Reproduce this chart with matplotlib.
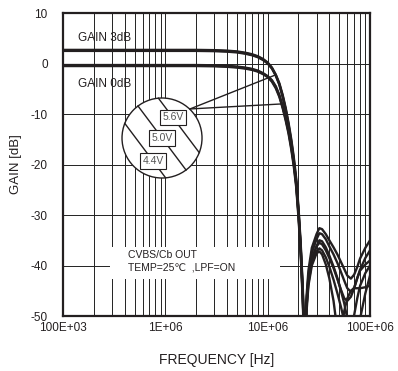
import numpy as np
import matplotlib
matplotlib.use("Agg")
import matplotlib.pyplot as plt
from matplotlib.patches import Ellipse, Rectangle

plt.rcParams['font.family'] = ['Liberation Sans', 'DejaVu Sans']

# --- datos ---
freq_mhz = [0.1, 1, 2, 3, 4, 5, 6, 7, 8, 9, 10, 11, 12, 13, 14, 15, 16, 17, 18, 19,
            20, 21, 22, 23, 24, 25, 27, 30, 32, 34, 37, 40, 44, 48, 52, 56, 60, 65,
            70, 75, 80, 90, 100]

gain3_56v = [2.7, 2.7, 2.7, 2.65, 2.55, 2.4, 2.15, 1.85, 1.45, 0.9, 0.2, -0.8, -2.2, -3.9,
             -6.2, -8.8, -11.8, -15.0, -18.6, -22.8, -28.5, -35.5, -44, -56, -46,
             -41, -36.5, -33.8, -32.6, -32.8, -33.8, -35.0, -36.4, -37.8, -39.3, -40.7,
             -42.0, -42.6, -41.8, -40.3, -38.6, -36.5, -35.0]
gain3_50v = [2.6, 2.6, 2.6, 2.55, 2.45, 2.3, 2.05, 1.75, 1.35, 0.8, 0.1, -0.9, -2.3, -4.1,
             -6.4, -9.1, -12.1, -15.4, -19.0, -23.3, -29, -36, -45, -57, -47,
             -42, -37.5, -34.8, -33.6, -33.8, -34.8, -36.2, -37.8, -39.5, -41.3, -43.0,
             -44.5, -45.2, -44.4, -42.5, -40.8, -38.5, -37.0]
gain3_44v = [2.5, 2.5, 2.5, 2.45, 2.35, 2.2, 1.95, 1.65, 1.25, 0.7, 0.0, -1.0, -2.4, -4.2,
             -6.6, -9.3, -12.4, -15.7, -19.4, -23.8, -29.5, -36.5, -46, -58, -48,
             -43, -39, -36.2, -35.0, -35.2, -36.4, -38.0, -40.2, -42.5, -45.0, -47.5,
             -50.5, -51.5, -49.8, -46.5, -44.0, -41.5, -40.0]
gain0_56v = [-0.3, -0.3, -0.3, -0.35, -0.45, -0.6, -0.8, -1.05, -1.4, -1.9, -2.5, -3.3, -4.5,
             -6.2, -8.4, -10.8, -13.3, -16.3, -19.6, -23.5, -29.5, -36.5, -45, -57, -47,
             -42.5, -38.5, -36.2, -35.5, -35.8, -37.0, -38.5, -40.5, -42.7, -44.8, -46.5,
             -47.0, -46.2, -44.5, -42.5, -41.0, -39.8, -39.0]
gain0_50v = [-0.4, -0.4, -0.4, -0.45, -0.55, -0.7, -0.9, -1.15, -1.5, -2.0, -2.6, -3.4, -4.7,
             -6.4, -8.6, -11.0, -13.6, -16.6, -20.0, -24.0, -30, -37, -46, -58, -48,
             -43.5, -39.5, -37.2, -36.6, -37.0, -38.4, -40.2, -42.8, -45.5, -48.2, -51.0,
             -53.5, -55.5, -57, -55, -50.5, -45.5, -42.0]
gain0_44v = [-0.5, -0.5, -0.5, -0.55, -0.65, -0.8, -1.0, -1.25, -1.6, -2.1, -2.7, -3.6, -4.9,
             -6.6, -8.8, -11.3, -13.9, -17.0, -20.4, -24.5, -30.5, -37.5, -47, -59, -49,
             -44, -40, -37.6, -37.2, -37.8, -39.8, -42.5, -47.0, -53.0, -53.5, -49.0,
             -46.5, -45.0, -44.5, -44.5, -44.5, -44.3, -44.0]

curvas = [gain3_56v, gain3_50v, gain3_44v, gain0_56v, gain0_50v, gain0_44v]

xticks_hz = [1e5, 1e6, 1e7, 1e8]
xtick_labels = ["100E+03", "1E+06", "10E+06", "100E+06"]
yticks_db = [10, 0, -10, -20, -30, -40, -50]
etiquetas_v = ["5.6V", "5.0V", "4.4V"]

# --- figura ---
fig = plt.figure(figsize=(3.98, 3.71), dpi=100)
ax = fig.add_axes([0.1583, 0.1482, 0.7714, 0.8167])

f_hz = np.array(freq_mhz) * 1e6
for g in curvas:
    ax.plot(f_hz, g, color='#231f20', lw=1.7, zorder=5, solid_joinstyle='round')

ax.set_xscale('log')
ax.set_xlim(1e5, 1e8)
ax.set_ylim(-50, 10)

# cuadrícula: todas las décadas menores en x, cada 10 dB en y
ax.set_xticks(xticks_hz)
ax.set_xticklabels(xtick_labels)
ax.set_yticks(yticks_db)
ax.set_yticklabels([str(v) for v in yticks_db])
ax.xaxis.set_minor_locator(matplotlib.ticker.LogLocator(base=10, subs=np.arange(2, 10)))
ax.xaxis.set_minor_formatter(matplotlib.ticker.NullFormatter())
ax.grid(True, which='both', axis='x', color='#222222', lw=0.7)
ax.grid(True, which='major', axis='y', color='#222222', lw=0.7)
ax.tick_params(which='both', length=0, labelsize=8.5, colors='#231f20')
ax.tick_params(axis='x', pad=4)
ax.tick_params(axis='y', pad=11)
for s in ax.spines.values():
    s.set_linewidth(1.6)
    s.set_color('#231f20')

ax.set_xlabel("FREQUENCY [Hz]", fontsize=10, labelpad=14, color='#231f20')
ax.set_ylabel("GAIN [dB]", fontsize=9.5, labelpad=6, color='#231f20')

# etiquetas de ganancia
ax.text(1.4e5, 5.0, "GAIN 3dB", fontsize=8.5, va='center', ha='left', color='#231f20')
ax.text(1.4e5, -4.0, "GAIN 0dB", fontsize=8.5, va='center', ha='left', color='#231f20')

# caja de condiciones
ax.add_patch(Rectangle((0.153, 0.122), 0.554, 0.106, transform=ax.transAxes,
                       facecolor='white', edgecolor='none', zorder=3))
ax.text(0.213, 0.200, "CVBS/Cb OUT", transform=ax.transAxes, fontsize=7.5,
        va='center', ha='left', color='#231f20', zorder=4)
ax.text(0.213, 0.160, "TEMP=25\u2103  ,LPF=ON", transform=ax.transAxes, fontsize=7.5,
        va='center', ha='left', color='#231f20', zorder=4)

# lupa con las tensiones
cx, cy, r = 0.3225, 0.5875, 40
rx, ry = r / 307, r / 303
ax.add_patch(Ellipse((cx, cy), 2 * rx, 2 * ry, transform=ax.transAxes,
                     facecolor='white', edgecolor='#231f20', lw=1.0, zorder=6))
d = np.array([0.6, -0.8])   # dirección de las rayas (px)
n = np.array([0.8, 0.6])    # normal (px)
for k, desliz, lab in zip([21, 0, -21], [-10, 0, 13], etiquetas_v):
    half = np.sqrt(r**2 - k**2)
    p0 = k * n - half * d
    p1 = k * n + half * d
    ax.plot([cx + p0[0] / 307, cx + p1[0] / 307], [cy + p0[1] / 303, cy + p1[1] / 303],
            transform=ax.transAxes, color='#231f20', lw=1.0, zorder=7)
    pc = k * n + desliz * d
    ax.text(cx + pc[0] / 307, cy + pc[1] / 303, lab, transform=ax.transAxes,
            fontsize=7.5, ha='center', va='center', color='#555555', zorder=8,
            bbox=dict(boxstyle='square,pad=0.25', facecolor='white',
                      edgecolor='#231f20', lw=0.8))

# líneas de referencia de la lupa hacia las curvas
origen = (1.74e6, -9.0)
ax.plot([origen[0], 11.8e6], [origen[1], -2.3], color='#231f20', lw=1.0, zorder=6)
ax.plot([origen[0], 13.8e6], [origen[1], -8.0], color='#231f20', lw=1.0, zorder=6)

fig.savefig("out.png", dpi=100)
